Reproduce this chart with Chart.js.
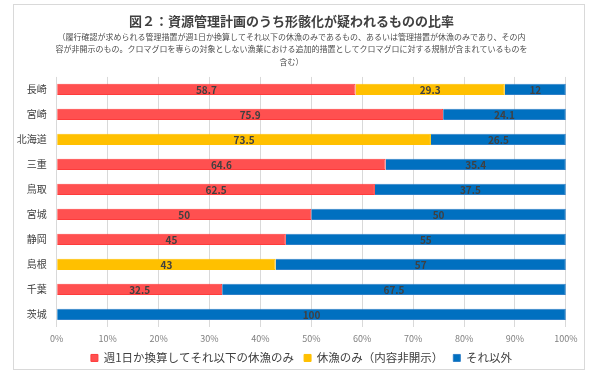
<!DOCTYPE html>
<html lang="ja">
<head>
<meta charset="utf-8">
<script src="https://cdn.jsdelivr.net/npm/chart.js@4.4.1/dist/chart.umd.min.js"></script>
<style>
    body { margin: 0; background: #fff; }
    #frame {
        position: absolute;
        left: 13px; top: 4px;
        width: 572px; height: 366px;
        box-sizing: border-box;
        border: 1px solid #d9d9d9;
    }
    #chart { display: block; }
</style>
</head>
<body>
<div id="frame"><canvas id="chart" width="570" height="364"></canvas></div>
<script>
// categories (top to bottom)
const prefectures = ["長崎", "宮崎", "北海道", "三重", "鳥取", "宮城", "静岡", "島根", "千葉", "茨城"];

// series values (%)
const weeklyRest = [58.7, 75.9, 0, 64.6, 62.5, 50, 45, 0, 32.5, 0];
const restOnly = [29.3, 0, 73.5, 0, 0, 0, 0, 43, 0, 0];
const others = [12, 24.1, 26.5, 35.4, 37.5, 50, 55, 57, 67.5, 100];

const seriesNames = ["週1日か換算してそれ以下の休漁のみ", "休漁のみ（内容非開示）", "それ以外"];

const titleText = "図２：資源管理計画のうち形骸化が疑われるものの比率";
const subtitleLines = [
    "（履行確認が求められる管理措置が週1日か換算してそれ以下の休漁のみであるもの、あるいは管理措置が休漁のみであり、その内",
    "容が非開示のもの。クロマグロを専らの対象としない漁業における追加的措置としてクロマグロに対する規制が含まれているものを",
    "含む）"
];

const FONT = "'Noto Sans CJK JP', 'Noto Sans', sans-serif";

// draws the value in the middle of each segment
const segmentLabels = {
    id: "segmentLabels",
    afterDatasetsDraw(chart) {
        const ctx = chart.ctx;
        ctx.save();
        ctx.font = "bold 10px " + FONT;
        ctx.fillStyle = "#404040";
        ctx.textAlign = "center";
        ctx.textBaseline = "middle";
        chart.data.datasets.forEach((ds, i) => {
            const meta = chart.getDatasetMeta(i);
            meta.data.forEach((bar, j) => {
                const v = ds.data[j];
                if (!v) return;
                const { x, base, y } = bar.getProps(["x", "base", "y"], true);
                ctx.fillText(String(v), (x + base) / 2, y + 0.5);
            });
        });
        ctx.restore();
    }
};

// nudge the legend a little to the right, like the original
const legendShift = {
    id: "legendShift",
    afterLayout(chart) {
        if (chart.legend) {
            chart.legend.left += 10;
            chart.legend.right += 10;
        }
    }
};

const toBars = arr => arr.map(v => (v === 0 ? null : v));

new Chart(document.getElementById("chart"), {
    type: "bar",
    data: {
        labels: prefectures,
        datasets: [
            {
                label: seriesNames[0],
                data: toBars(weeklyRest),
                backgroundColor: "#FF5050",
                borderColor: "#FF3B3B",
                borderWidth: 1
            },
            {
                label: seriesNames[1],
                data: toBars(restOnly),
                backgroundColor: "#FFC000",
                borderColor: "#FFC000",
                borderWidth: 1
            },
            {
                label: seriesNames[2],
                data: toBars(others),
                backgroundColor: "#0070C0",
                borderColor: "#2F80C8",
                borderWidth: 1
            }
        ]
    },
    options: {
        indexAxis: "y",
        responsive: false,
        animation: false,
        devicePixelRatio: 1,
        barPercentage: 0.45,
        categoryPercentage: 1,
        layout: { padding: { left: 0, right: 15, top: 0, bottom: -4.7 } },
        scales: {
            x: {
                stacked: true,
                min: 0,
                max: 100,
                ticks: {
                    stepSize: 10,
                    padding: 6.5,
                    color: "#808080",
                    font: { family: FONT, size: 9 },
                    callback: v => v + "%"
                },
                grid: { color: "#d9d9d9", drawTicks: false },
                border: { display: false },
                afterFit(scale) { scale.height = 15.2; }
            },
            y: {
                stacked: true,
                ticks: {
                    padding: 10,
                    color: "#404040",
                    font: { family: FONT, size: 10 }
                },
                grid: { display: false, drawTicks: false },
                border: { display: false },
                afterFit(scale) { scale.width = 42.7; }
            }
        },
        plugins: {
            title: {
                display: true,
                text: titleText,
                color: "#404040",
                font: { family: FONT, size: 13, weight: "bold" },
                padding: { top: 8.6, bottom: 1.5 }
            },
            subtitle: {
                display: true,
                text: subtitleLines,
                color: "#4d4d4d",
                font: { family: FONT, size: 8, lineHeight: "12.5px" },
                padding: { top: 0, bottom: 8.75 }
            },
            legend: {
                position: "bottom",
                labels: {
                    color: "#404040",
                    font: { family: FONT, size: 11.5 },
                    boxWidth: 7,
                    boxHeight: 7,
                    padding: 10
                }
            },
            tooltip: { enabled: false }
        }
    },
    plugins: [segmentLabels, legendShift]
});
</script>
</body>
</html>
